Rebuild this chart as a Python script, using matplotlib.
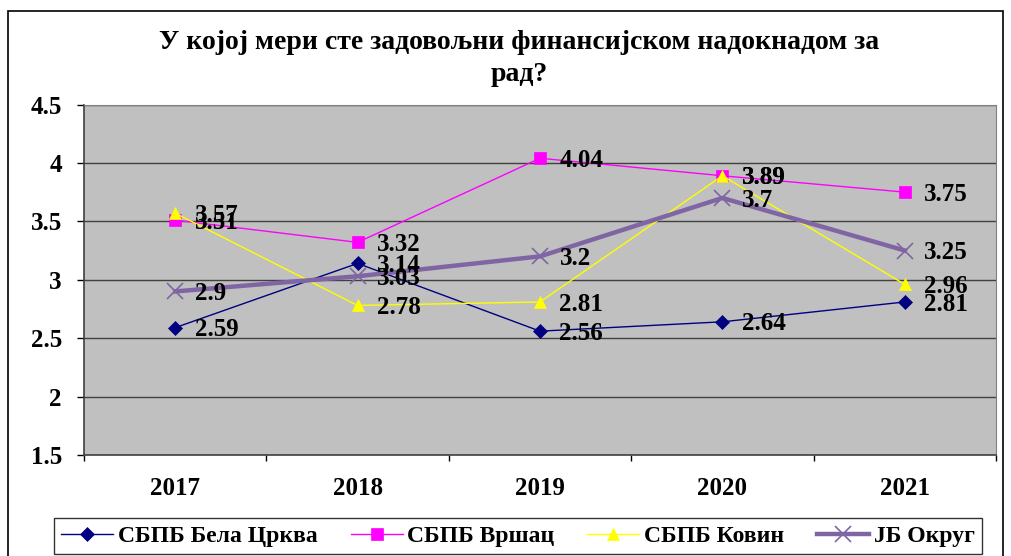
import matplotlib
matplotlib.use("Agg")
import matplotlib.pyplot as plt
from matplotlib.patches import Rectangle
from matplotlib.lines import Line2D

plt.rcParams["font.family"] = ["Liberation Serif", "DejaVu Serif"]
plt.rcParams["font.weight"] = "bold"

years = ["2017", "2018", "2019", "2020", "2021"]
bela_crkva = [2.59, 3.14, 2.56, 2.64, 2.81]
vrsac = [3.51, 3.32, 4.04, 3.89, 3.75]
kovin = [3.57, 2.78, 2.81, 3.89, 2.96]
jb_okrug = [2.9, 3.03, 3.2, 3.7, 3.25]

title = "У којој мери сте задовољни финансијском надокнадом за\nрад?"
series = [
    ("СБПБ Бела Црква", bela_crkva, "#000080", "D", 7, 1.0),
    ("СБПБ Вршац", vrsac, "#FF00FF", "s", 8, 1.0),
    ("СБПБ Ковин", kovin, "#FFFF00", "^", 9, 1.0),
    ("ЈБ Округ", jb_okrug, "#7F65A3", "x", 12, 3.2),
]

W, H = 1011, 556
fig = plt.figure(figsize=(W / 100, H / 100), dpi=100)
ax = fig.add_axes([84 / W, 1 - 455 / H, (996 - 84) / W, (455 - 104.5) / H])
ax.set_facecolor("#C0C0C0")

x = list(range(len(years)))
for name, vals, col, mk, ms, lw in series:
    ax.plot(x, vals, color=col, marker=mk, markersize=ms, linewidth=lw,
            markeredgewidth=1.2 if mk == "x" else 0.5, markeredgecolor=col,
            label=name, zorder=3)
    for xi, v in zip(x, vals):
        ax.annotate(f"{v:g}", (xi, v), xytext=(14, -1.5), textcoords="offset points",
                    ha="left", va="center", fontsize=18, fontweight="bold",
                    color="black", zorder=5)

ax.set_ylim(1.5, 4.5)
ax.set_yticks([1.5, 2, 2.5, 3, 3.5, 4, 4.5])
ax.set_yticklabels(["1.5", "2", "2.5", "3", "3.5", "4", "4.5"])
ax.set_xlim(-0.5, len(years) - 0.5)
ax.set_xticks(x)
ax.set_xticklabels(years)
ax.set_xticks([i - 0.5 for i in range(len(years) + 1)], minor=True)
ax.tick_params(axis="x", which="major", length=0, pad=16, labelsize=18)
ax.tick_params(axis="x", which="minor", length=4, width=1, direction="out")
ax.tick_params(axis="y", length=5, width=1, pad=11, labelsize=18)
ax.grid(axis="y", color="#404040", linewidth=1)
ax.set_axisbelow(True)
for s in ["top", "right"]:
    ax.spines[s].set_color("#808080")
for s in ["left", "bottom"]:
    ax.spines[s].set_color("#404040")
    ax.spines[s].set_linewidth(1.2)

fig.text(0.5135, 1 - 58.5 / H, title, ha="center", va="center", fontsize=20,
         fontweight="bold", linespacing=1.32)

handles = [Line2D([0], [0], color=c, marker=m, markersize=ms, linewidth=lw,
                  markeredgecolor=c, markeredgewidth=1.2 if m == "x" else 0.5)
           for _, _, c, m, ms, lw in series]
leg = fig.legend(handles, [s[0] for s in series], loc="center",
                 bbox_to_anchor=(518 / W, 1 - 536 / H), ncol=4, frameon=True,
                 fancybox=False, edgecolor="black", fontsize=17,
                 handlelength=2.2, handletextpad=0.2, columnspacing=1.4,
                 borderpad=0.3, borderaxespad=0)
leg.get_frame().set_linewidth(1.0)

fig.add_artist(Rectangle((8 / W, -0.02), (1003 - 8) / W, 1 - 11 / H + 0.02,
                         transform=fig.transFigure, fill=False,
                         edgecolor="black", linewidth=1.2))

fig.savefig("out.png", dpi=100)
